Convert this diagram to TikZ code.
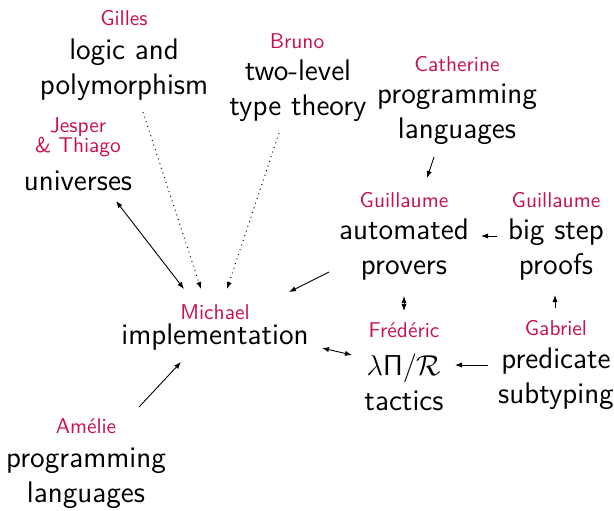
\documentclass[tikz,border=0pt]{standalone}
\usepackage{amsmath, amssymb}
\usepackage{tikz}
\usetikzlibrary{arrows.meta}
\definecolor{nameclr}{RGB}{200,16,82}

\begin{document}
\begin{tikzpicture}[x=0.5pt,y=0.5pt,yscale=-1,xscale=1,
	topic/.style={font=\sffamily\fontsize{14.9}{17.5}\selectfont, align=center, inner sep=0pt},
	who/.style={font=\sffamily\fontsize{10.7}{10.2}\selectfont, text=nameclr, align=center, inner sep=0pt},
	link/.style={-{Latex[length=3.5pt,width=2.6pt]}, line width=0.45pt},
	twoway/.style={{Latex[length=3.5pt,width=2.6pt]}-{Latex[length=3.5pt,width=2.6pt]}, line width=0.45pt},
	hint/.style={link, dotted, line width=0.5pt}]
		\useasboundingbox (0,0) rectangle (614,510);
		
		% Text Node
		\node (gilles) at (124,18) [who] {Gilles};
		% Text Node
		\node (logic) at (124,70) [topic] {logic and\\polymorphism};
		% Text Node
		\node (bruno) at (297,41) [who] {Bruno};
		% Text Node
		\node (twolevel) at (298,91) [topic] {two-level\\type theory};
		% Text Node
		\node (catherine) at (457,64) [who] {Catherine};
		% Text Node
		\node (proglang) at (457,114) [topic] {programming\\languages};
		% Text Node
		\node (jesper) at (78,137) [who] {Jesper\\\& Thiago};
		% Text Node
		\node (univ) at (78,181) [topic] {universes};
		% Text Node
		\node (guilA) at (404,200) [who] {Guillaume};
		% Text Node
		\node (provers) at (404,250) [topic] {automated\\provers};
		% Text Node
		\node (guilB) at (556,200) [who] {Guillaume};
		% Text Node
		\node (bigstep) at (556,250) [topic] {big step\\proofs};
		% Text Node
		\node (michael) at (215,312) [who] {Michael};
		% Text Node
		\node (impl) at (215,337) [topic] {implementation};
		% Text Node
		\node (fred) at (404,330) [who] {Frédéric};
		% Text Node
		\node (tactics) at (404,382) [topic] {$\lambda\mathsf{\Pi}/\mathcal{R}$\\tactics};
		% Text Node
		\node (gabriel) at (556,328) [who] {Gabriel};
		% Text Node
		\node (subtyp) at (556,379) [topic] {predicate\\subtyping};
		% Text Node
		\node (amelie) at (86,426) [who] {Amélie};
		% Text Node
		\node (proglangB) at (86,478) [topic] {programming\\languages};
		
		% Dotted Lines
		\draw [hint] ([shift={(19,42)}]logic.center) -- ([shift={(-14,-48)}]impl.center);
		\draw [hint] ([shift={(-19,42)}]twolevel.center) -- ([shift={(12,-48)}]impl.center);
		% Straight Lines
		\draw [twoway] ([shift={(38,20)}]univ.center) -- ([shift={(-31,-48)}]impl.center);
		\draw [link] ([shift={(-75,22)}]provers.center) -- ([shift={(74,-45)}]impl.center);
		\draw [link] ([shift={(-23,43)}]proglang.center) -- ([shift={(23,-72)}]provers.center);
		\draw [link] ([shift={(-59,-14)}]bigstep.center) -- ([shift={(77,-14)}]provers.center);
		\draw [twoway] ([shift={(0,46)}]provers.center) -- ([shift={(0,-71)}]tactics.center);
		\draw [link] ([shift={(-1,-20)}]gabriel.center) -- ([shift={(-1,45)}]bigstep.center);
		\draw [twoway] ([shift={(107,11)}]impl.center) -- ([shift={(-52,-27)}]tactics.center);
		\draw [link] ([shift={(-68,-14)}]subtyp.center) -- ([shift={(51,-17)}]tactics.center);
		\draw [link] ([shift={(53,-19)}]amelie.center) -- ([shift={(-34,25)}]impl.center);
		
\end{tikzpicture}
\end{document}
